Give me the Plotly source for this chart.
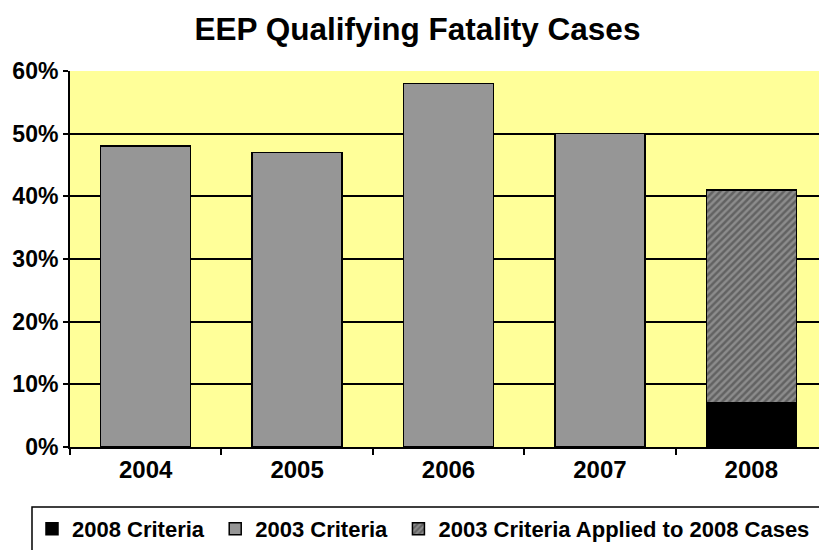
import plotly.graph_objects as go

years = ["2004", "2005", "2006", "2007", "2008"]
crit2008_years = ["2008"]
crit2008_vals = [7]
crit2003_years = ["2004", "2005", "2006", "2007"]
crit2003_vals = [48, 47, 58, 50]
applied_years = ["2008"]
applied_vals = [34]
y_ticks = [0, 10, 20, 30, 40, 50, 60]

FONT = "Liberation Sans, Arial, sans-serif"
line = dict(color="black", width=1.5)
BW = 0.595

fig = go.Figure()
fig.add_trace(go.Bar(x=crit2008_years, y=crit2008_vals, name="<b>2008 Criteria</b>&nbsp;",
                     marker=dict(color="black", line=line), width=BW))
fig.add_trace(go.Bar(x=crit2003_years, y=crit2003_vals, name="<b>2003 Criteria</b>&nbsp;",
                     marker=dict(color="#969696", line=line), width=BW))
fig.add_trace(go.Bar(x=applied_years, y=applied_vals,
                     name="<b>2003 Criteria Applied to 2008 Cases</b>",
                     marker=dict(color="#8c8c8c", line=line,
                                 pattern=dict(shape="/", fgcolor="#383838", size=5,
                                              solidity=0.5, fillmode="overlay")),
                     width=BW))

fig.update_layout(
    width=819, height=542,
    barmode="stack",
    paper_bgcolor="white",
    plot_bgcolor="#FFFF99",
    margin=dict(l=62, r=0, t=63, b=103, autoexpand=False),
    title=dict(text="<b>EEP Qualifying Fatality Cases</b>", xref="container", x=0.5,
               xanchor="center", yref="container", y=0.961, yanchor="middle",
               font=dict(family=FONT, size=31.5, color="black")),
    font=dict(family=FONT, color="black"),
    showlegend=True,
    legend=dict(orientation="h", x=-0.0502, xanchor="left", y=-0.218, yanchor="middle",
                font=dict(family=FONT, size=22, color="black"),
                traceorder="normal", itemwidth=30,
                bgcolor="rgba(0,0,0,0)"),
    xaxis=dict(categoryorder="array", categoryarray=years,
               range=[-0.5, 4.5],
               tickfont=dict(family=FONT, size=24, color="black"),
               tickprefix="<b>", ticksuffix="</b>",
               showline=True, linecolor="black", linewidth=2,
               ticks="outside", tickson="boundaries", ticklen=6, tickwidth=2, tickcolor="black",
               showgrid=False),
    yaxis=dict(range=[0, 60], tickvals=y_ticks,
               ticktext=[f"<b>{v}%</b>" for v in y_ticks],
               tickfont=dict(family=FONT, size=23, color="black"),
               showline=True, linecolor="black", linewidth=2,
               ticks="outside", ticklen=5, tickwidth=2, tickcolor="black",
               showgrid=True, gridcolor="black", gridwidth=2, zeroline=False),
    shapes=[dict(type="rect", xref="paper", yref="paper",
                 x0=-0.0502, x1=1.02, y0=-0.1596, y1=-0.35,
                 line=dict(color="black", width=1.5), fillcolor="rgba(0,0,0,0)")],
)

fig.write_html("out.html")
